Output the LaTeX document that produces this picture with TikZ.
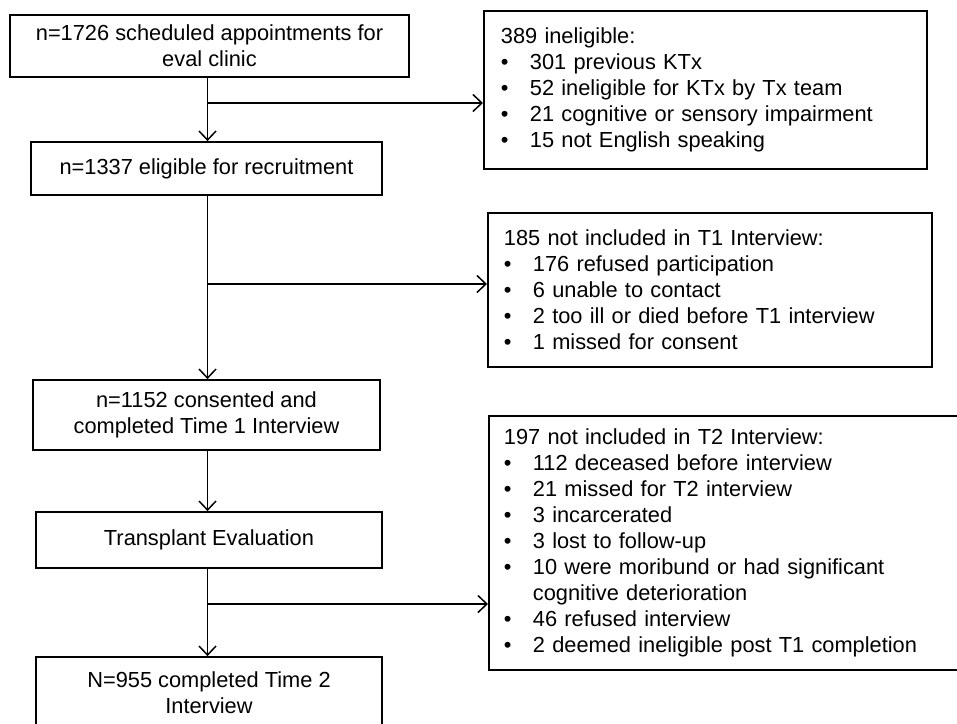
\documentclass[tikz,border=0pt]{standalone}
\usepackage{fontspec}
\setmainfont{Liberation Sans}
\usetikzlibrary{arrows.meta}
\newcommand{\bitem}[1]{\makebox[29pt][l]{\textbullet}#1}
\newcommand{\bcont}[1]{\makebox[29pt][l]{}#1}
\begin{document}
\begin{tikzpicture}[x=1pt,y=-1pt,
  box/.style={draw, line width=1.8pt, inner sep=0pt, font=\fontsize{21.8}{26}\selectfont, align=center},
  listbox/.style={draw, line width=1.8pt, inner ysep=0pt, anchor=west, font=\fontsize{21.8}{26}\selectfont, align=left},
  arr/.style={-{Straight Barb[length=9pt,width=17pt]}, line width=1.5pt},
  ln/.style={line width=1.5pt}]
\clip (0,0) rectangle (957,723);
\fill[white] (0,0) rectangle (957,723);
% main column
\node[box, minimum width=399pt, minimum height=62pt] (A1) at (209.5,46) {n=1726 scheduled appointments for\\eval clinic};
\node[box, minimum width=351pt, minimum height=53pt] (A2) at (206.5,168.5) {n=1337 eligible for recruitment};
\node[box, minimum width=347pt, minimum height=70pt] (A3) at (206.5,415) {n=1152 consented and\\completed Time 1 Interview};
\node[box, minimum width=346pt, minimum height=56pt] (A4) at (209,540) {Transplant Evaluation};
\node[box, minimum width=346pt, minimum height=72pt] (A5) at (209,693) {N=955 completed Time 2\\Interview};
% side boxes
\node[listbox, inner xsep=17pt, text width=409pt, minimum height=158pt] (B1) at (483,90)
 {389 ineligible:\\\bitem{301 previous KTx}\\\bitem{52 ineligible for KTx by Tx team}\\\bitem{21 cognitive or sensory impairment}\\\bitem{15 not English speaking}};
\node[listbox, inner xsep=16pt, text width=412pt, minimum height=154pt] (B2) at (487,290)
 {185 not included in T1 Interview:\\\bitem{176 refused participation}\\\bitem{6 unable to contact}\\\bitem{2 too ill or died before T1 interview}\\\bitem{1 missed for consent}};
\node[listbox, inner xsep=15pt, text width=452pt, minimum height=254pt] (B3) at (488,543)
 {197 not included in T2 Interview:\\\bitem{112 deceased before interview}\\\bitem{21 missed for T2 interview}\\\bitem{3 incarcerated}\\\bitem{3 lost to follow-up}\\\bitem{10 were moribund or had significant}\\\bcont{cognitive deterioration}\\\bitem{46 refused interview}\\\bitem{2 deemed ineligible post T1 completion}};
% column coordinate and branch points
\coordinate (col) at (207.5,0);
\coordinate (br1) at (207.5,103);
\coordinate (br2) at (207.5,284);
\coordinate (br3) at (207.5,604);
% vertical connectors
\draw[arr] (A1.south -| col) -- (A2.north -| col);
\draw[arr] (A2.south -| col) -- (A3.north -| col);
\draw[arr] (A3.south -| col) -- (A4.north -| col);
\draw[arr] (A4.south -| col) -- (A5.north -| col);
% branches
\draw[arr] (br1) -- (br1 -| B1.west);
\draw[arr] (br2) -- (br2 -| B2.west);
\draw[arr] (br3) -- (br3 -| B3.west);
\end{tikzpicture}
\end{document}
